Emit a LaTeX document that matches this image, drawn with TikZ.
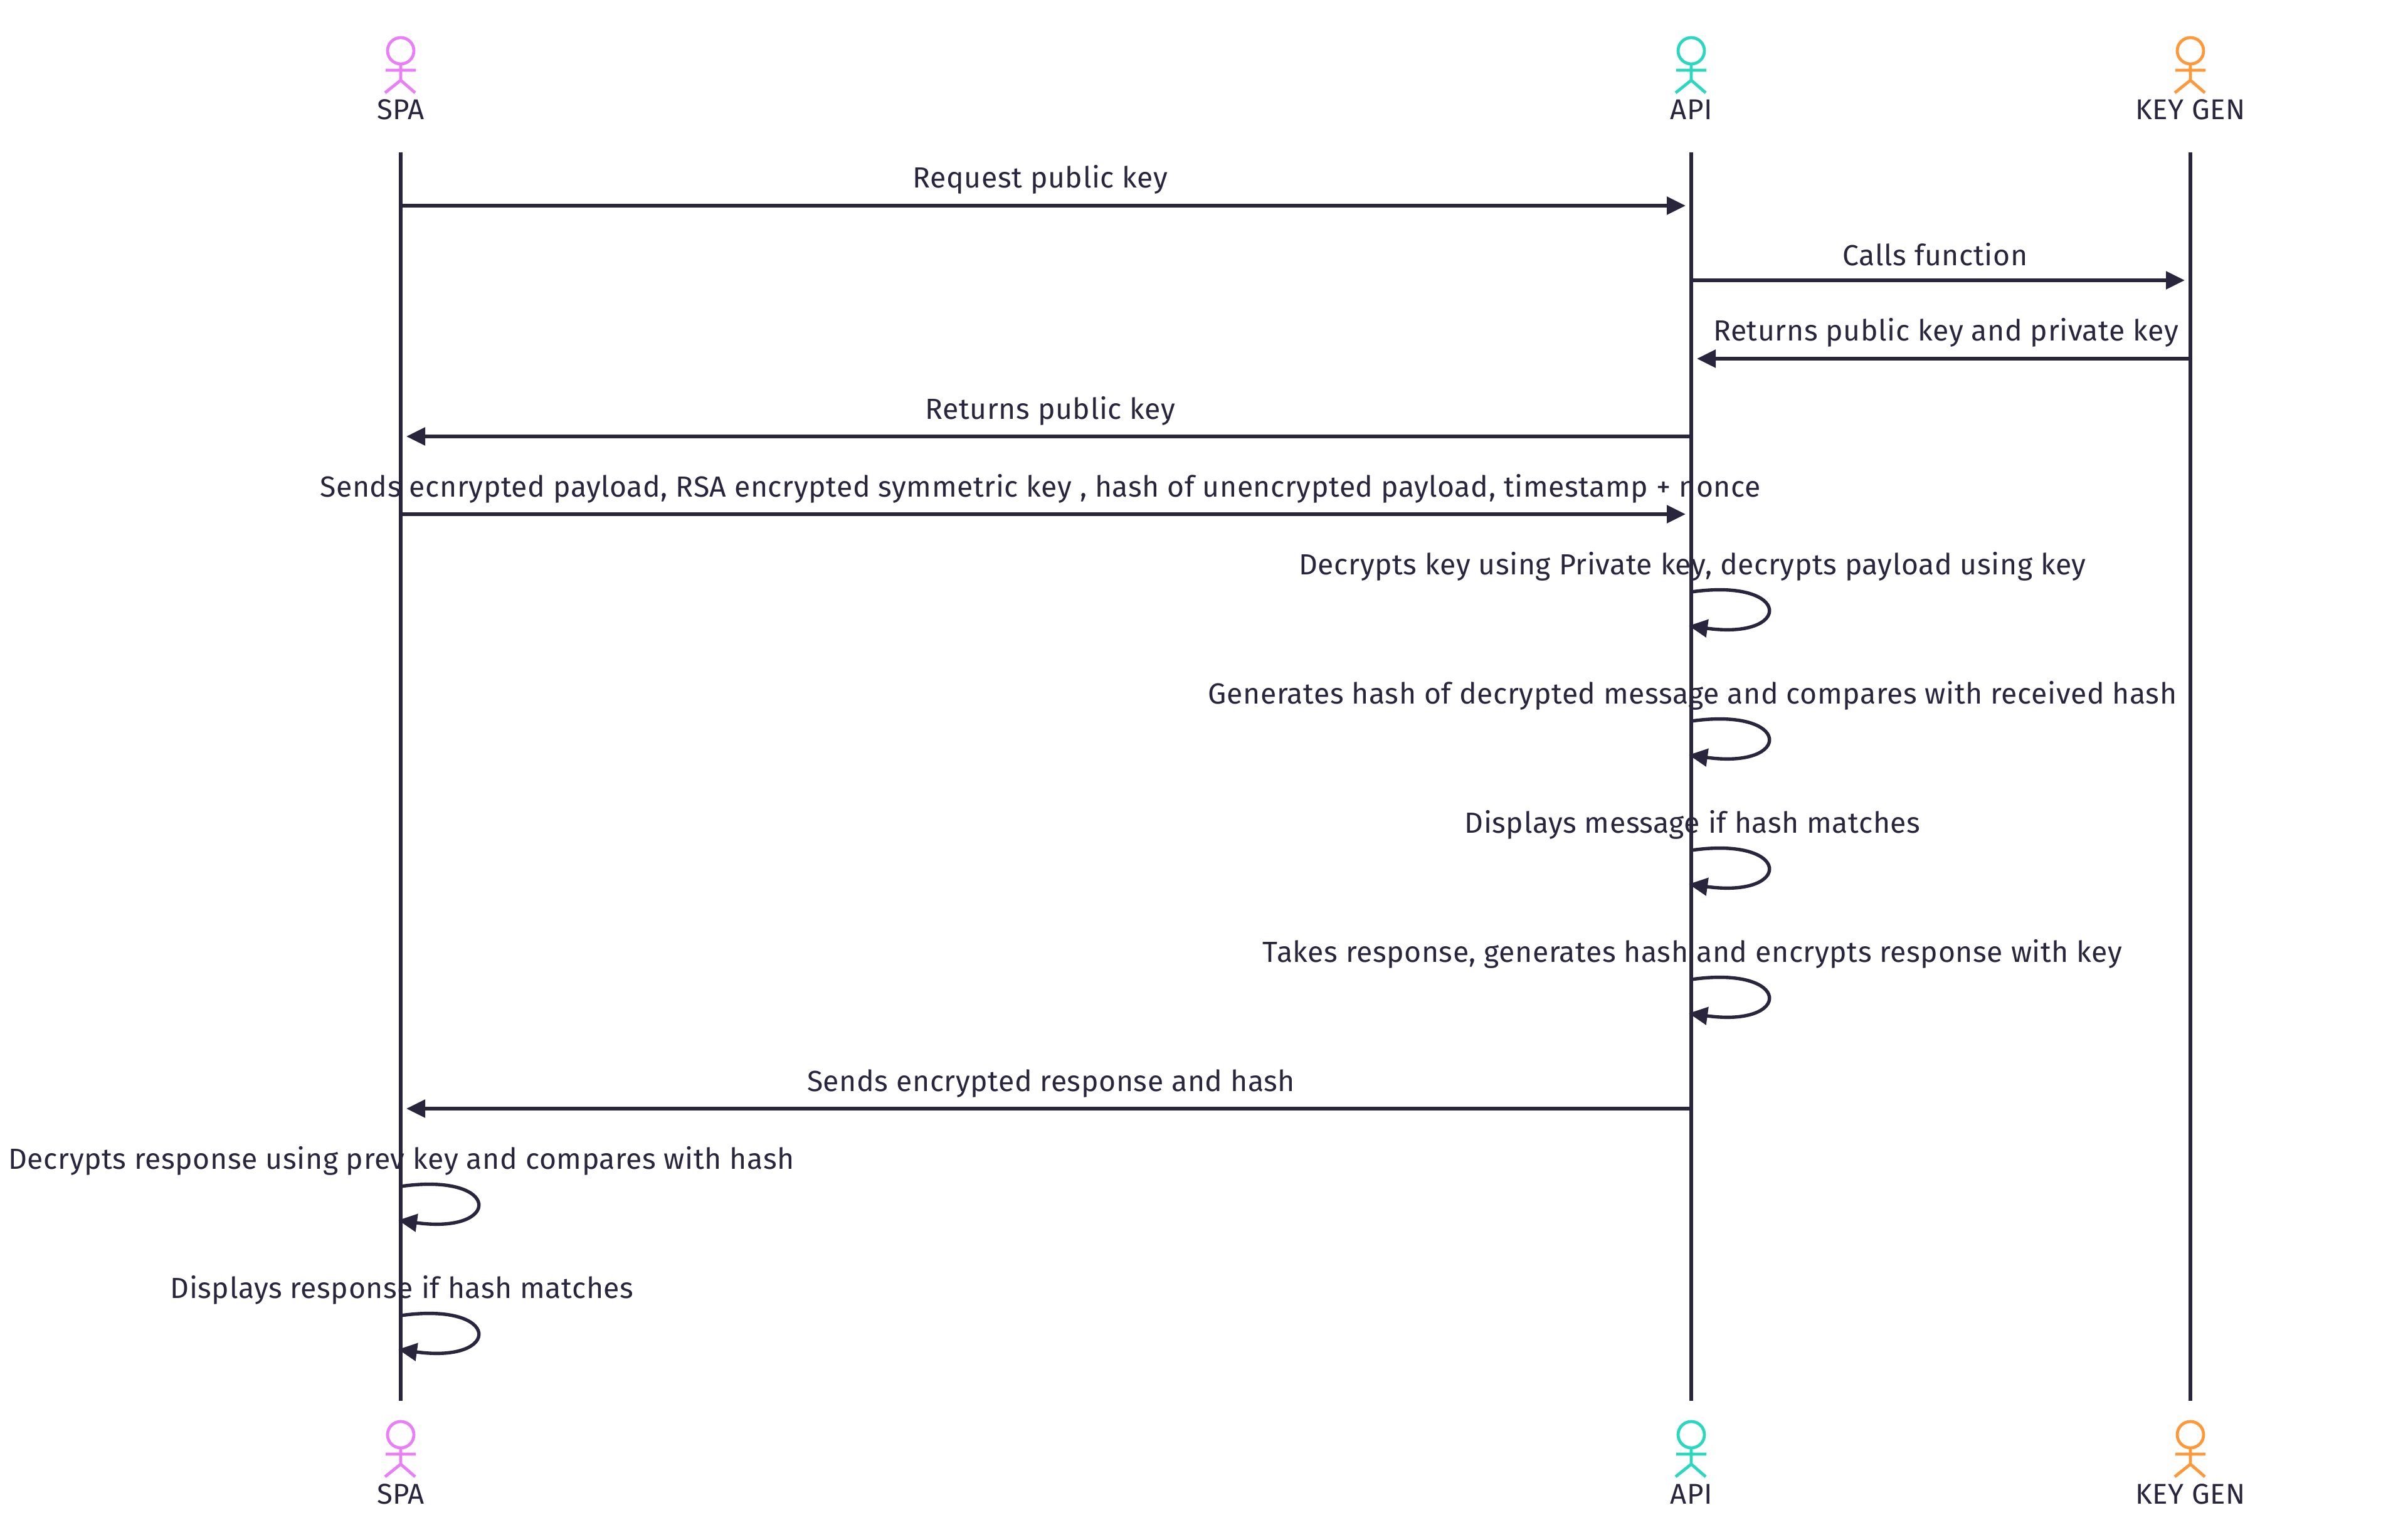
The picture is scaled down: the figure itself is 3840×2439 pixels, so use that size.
\documentclass[tikz,border=0pt]{standalone}
\usepackage{fontspec}
\setmainfont{Fira Sans}[LetterSpace=1.25]
\usetikzlibrary{arrows.meta}
\definecolor{ink}{HTML}{28253D}
\definecolor{spacol}{HTML}{E97EF7}
\definecolor{apicol}{HTML}{2AD8C0}
\definecolor{keycol}{HTML}{FF9838}
\begin{document}
\begin{tikzpicture}
    [
    x=0.25pt,y=-0.25pt,
    lifeline/.style={draw=ink,line width=1.35pt},
    message/.style={draw=ink,line width=1.35pt,-{Triangle[length=7.5pt,width=7pt]}},
    msglabel/.style={anchor=base,inner sep=0pt,text=ink,font=\fontsize{11.6}{14}\selectfont},
    actorlabel/.style={anchor=base,inner sep=0pt,text=ink,font=\fontsize{11.4}{14}\selectfont},
    actor/.pic={
      \draw [line width=1.2pt,pic actions] (0,0) circle (21);
      \draw [line width=1.2pt,pic actions] (0,21) -- (0,47) (-24,31) -- (24,31)
        (-25,67) -- (0,47) -- (23,67);
    },
    ]
    \useasboundingbox (0,0) rectangle (3840,2439);

    % actors
    \pic [draw=spacol] at (639,81) {actor};
    \pic [draw=apicol] at (2697,81) {actor};
    \pic [draw=keycol] at (3493,81) {actor};
    \node (spa) at (639,191) [actorlabel] {SPA};
    \node (api) at (2697,191) [actorlabel] {API};
    \node (key) at (3493,191) [actorlabel] {KEY GEN};
    \pic [draw=spacol] at (639,2288) {actor};
    \pic [draw=apicol] at (2697,2288) {actor};
    \pic [draw=keycol] at (3493,2288) {actor};
    \node (spab) at (639,2398) [actorlabel] {SPA};
    \node (apib) at (2697,2398) [actorlabel] {API};
    \node (keyb) at (3493,2398) [actorlabel] {KEY GEN};

    % lifelines
    \coordinate (l1) at (639,243);
    \coordinate (l2) at (639,2234);
    \coordinate (l3) at (2697,243);
    \coordinate (l4) at (2697,2234);
    \coordinate (l5) at (3493,243);
    \coordinate (l6) at (3493,2234);
    \draw [lifeline] (l1) to (l2);
    \draw [lifeline] (l3) to (l4);
    \draw [lifeline] (l5) to (l6);

    % messages
    \coordinate (a1) at (639,328);
    \coordinate (b1) at (2688,328);
    \coordinate (a2) at (2697,447);
    \coordinate (b2) at (3484,447);
    \coordinate (a3) at (3493,572);
    \coordinate (b3) at (2706,572);
    \coordinate (a4) at (2697,696);
    \coordinate (b4) at (648,696);
    \coordinate (a5) at (639,820);
    \coordinate (b5) at (2688,820);
    \coordinate (a6) at (2697,1768);
    \coordinate (b6) at (648,1768);
    \draw [message] (a1) to (b1);
    \draw [message] (a2) to (b2);
    \draw [message] (a3) to (b3);
    \draw [message] (a4) to (b4);
    \draw [message] (a5) to (b5);
    \draw [message] (a6) to (b6);
    \node (t1) at (1659,300) [msglabel] {Request public key};
    \node (t2) at (3086,424) [msglabel] {Calls function};
    \node (t3) at (3103,543) [msglabel] {Returns public key and private key};
    \node (t4) at (1675,668) [msglabel] {Returns public key};
    \node (t5) at (1659,792) [msglabel] {Sends ecnrypted payload, RSA encrypted symmetric key , hash of unencrypted payload, timestamp + nonce};
    \node (t6) at (1676,1740) [msglabel] {Sends encrypted response and hash};

    % self messages
    \coordinate (c1) at (2697,944);
    \coordinate (d1) at (2693,998);
    \coordinate (c2) at (2697,1150);
    \coordinate (d2) at (2693,1204);
    \coordinate (c3) at (2697,1356);
    \coordinate (d3) at (2693,1410);
    \coordinate (c4) at (2697,1562);
    \coordinate (d4) at (2693,1616);
    \coordinate (c5) at (639,1892);
    \coordinate (d5) at (635,1946);
    \coordinate (c6) at (639,2098);
    \coordinate (d6) at (635,2152);
    \draw [message] (c1) .. controls +(162,-23) and +(166,23) .. (d1);
    \draw [message] (c2) .. controls +(162,-23) and +(166,23) .. (d2);
    \draw [message] (c3) .. controls +(162,-23) and +(166,23) .. (d3);
    \draw [message] (c4) .. controls +(162,-23) and +(166,23) .. (d4);
    \draw [message] (c5) .. controls +(162,-23) and +(166,23) .. (d5);
    \draw [message] (c6) .. controls +(162,-23) and +(166,23) .. (d6);
    \node (t7) at (2699,916) [msglabel] {Decrypts key using Private key, decrypts payload using key};
    \node (t8) at (2699,1122) [msglabel] {Generates hash of decrypted message and compares with received hash};
    \node (t9) at (2699,1328) [msglabel] {Displays message if hash matches};
    \node (t10) at (2699,1534) [msglabel] {Takes response, generates hash and encrypts response with key};
    \node (t11) at (640,1864) [msglabel] {Decrypts response using prev key and compares with hash};
    \node (t12) at (641,2070) [msglabel] {Displays response if hash matches};
  \end{tikzpicture}
\end{document}
